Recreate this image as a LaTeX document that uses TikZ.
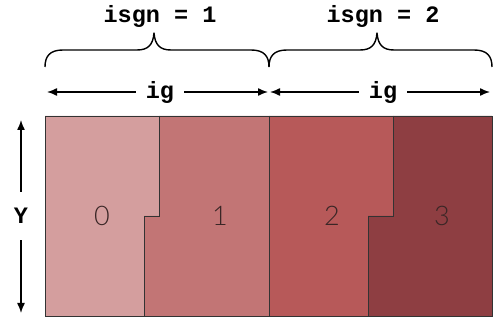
\documentclass[tikz,border=0pt]{standalone}
\usepackage{fontspec}
\setmonofont{Liberation Mono}
\newfontfamily\numfont{Lato Light}
\usetikzlibrary{arrows.meta}
\definecolor{cA}{HTML}{D49E9E}
\definecolor{cB}{HTML}{C27575}
\definecolor{cC}{HTML}{B75959}
\definecolor{cD}{HTML}{8E3E42}
\definecolor{numcol}{HTML}{3A2626}
\tikzset{
  region/.style={draw=black!80, line width=0.9pt},
  monolab/.style={font=\ttfamily\bfseries\fontsize{23.5}{27}\selectfont, inner sep=0pt},
  numlab/.style={font=\numfont\fontsize{27}{32}\selectfont, text=numcol},
  dimarrow/.style={line width=1.4pt, -{Latex[length=10pt,width=8pt]}},
  bracepath/.style={line width=1.4pt, line join=round},
}
\begin{document}
\begin{tikzpicture}[x=1pt,y=-1pt]
\useasboundingbox (0,0) rectangle (493,320);
% regions
\fill[cA] (45,116) -- (159,116) -- (159,216) -- (144,216) -- (144,316) -- (45,316) -- cycle;
\fill[cB] (159,116) -- (269,116) -- (269,316) -- (144,316) -- (144,216) -- (159,216) -- cycle;
\fill[cC] (269,116) -- (393,116) -- (393,216) -- (368,216) -- (368,316) -- (269,316) -- cycle;
\fill[cD] (393,116) -- (492,116) -- (492,316) -- (368,316) -- (368,216) -- (393,216) -- cycle;
\draw[region] (45,116) rectangle (492,316);
\draw[region] (269,116) -- (269,316);
\draw[region] (159,116) -- (159,216) -- (144,216) -- (144,316);
\draw[region] (393,116) -- (393,216) -- (368,216) -- (368,316);
% numbers
\node[numlab] (n0) at (102,216) {0};
\node[numlab] (n1) at (220,216) {1};
\node[numlab] (n2) at (332,216) {2};
\node[numlab] (n3) at (442,216) {3};
% braces
\draw[bracepath] (45,67) .. controls (45,56) and (50,50) .. (63,50) -- (137,50)
  .. controls (148,50) and (153,45) .. (154,33)
  .. controls (155,45) and (160,50) .. (171,50) -- (251,50)
  .. controls (264,50) and (269,56) .. (269,67);
\draw[bracepath] (269,67) .. controls (269,56) and (274,50) .. (287,50) -- (360,50)
  .. controls (371,50) and (376,45) .. (377,33)
  .. controls (378,45) and (383,50) .. (394,50) -- (474,50)
  .. controls (487,50) and (492,56) .. (492,67);
\node[monolab] (s1) at (160,16) {isgn = 1};
\node[monolab] (s2) at (383,16) {isgn = 2};
% ig arrows
\node[monolab, inner xsep=10pt, minimum height=20pt] (g1) at (160,92) {ig};
\node[monolab, inner xsep=10pt, minimum height=20pt] (g2) at (383,92) {ig};
\coordinate (g1l) at (47,92);
\coordinate (g1r) at (268,92);
\coordinate (g2l) at (270,92);
\coordinate (g2r) at (490,92);
\draw[dimarrow] (g1.west) -- (g1l);
\draw[dimarrow] (g1.east) -- (g1r);
\draw[dimarrow] (g2.west) -- (g2l);
\draw[dimarrow] (g2.east) -- (g2r);
% Y arrow
\node[monolab, minimum height=48pt] (y) at (21,216) {Y};
\coordinate (yt) at (21,120);
\coordinate (yb) at (21,313);
\draw[dimarrow] (y.north) -- (yt);
\draw[dimarrow] (y.south) -- (yb);
\end{tikzpicture}
\end{document}
